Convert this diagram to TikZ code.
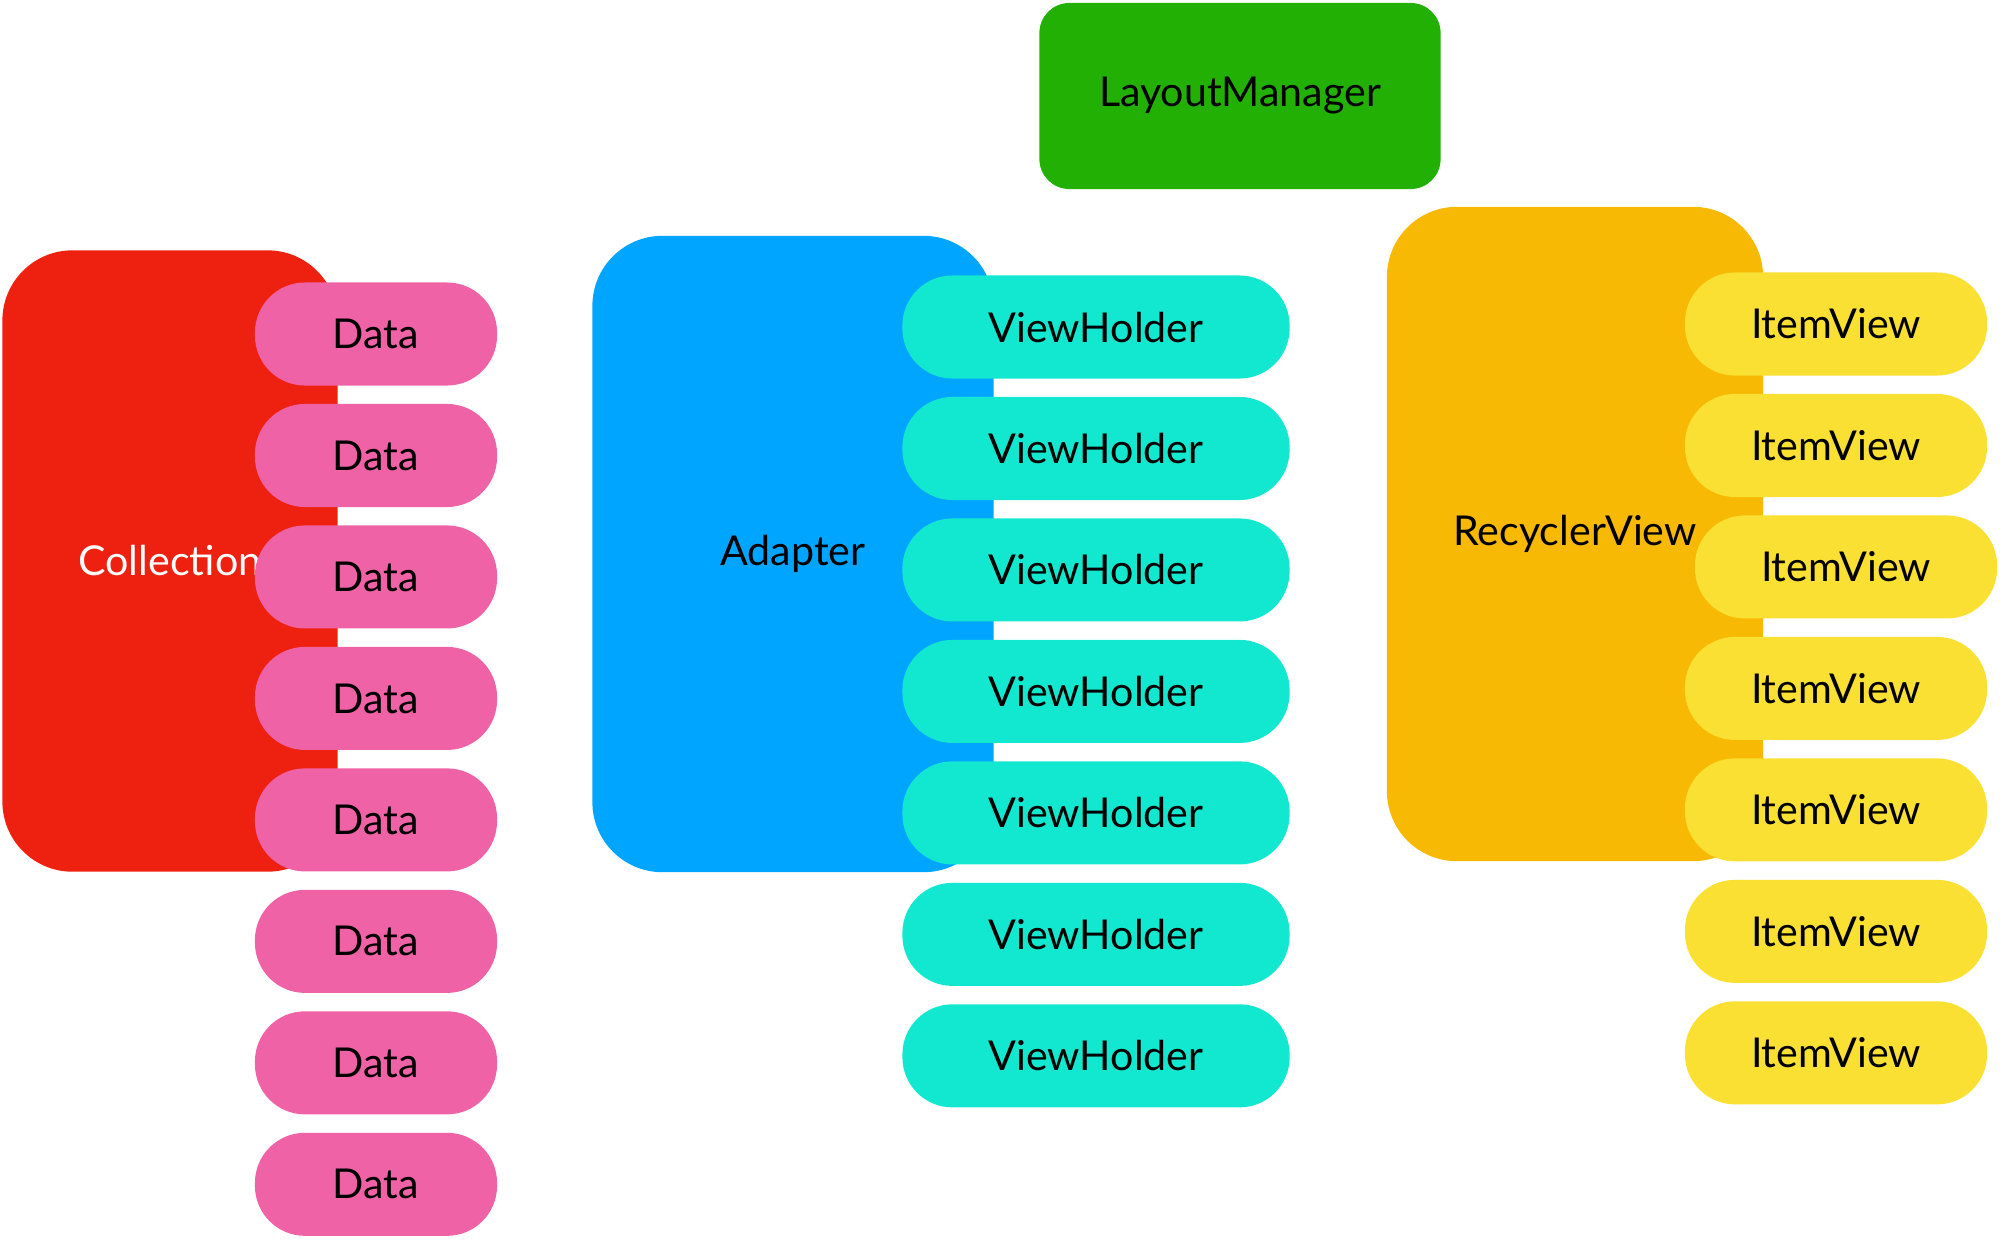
\documentclass[tikz,border=0pt]{standalone}
\usepackage{fontspec}
\setmainfont{Lato}
\usepackage{tikz}
\usetikzlibrary{positioning}
\definecolor{collectionred}{RGB}{238,32,16}
\definecolor{datapink}{RGB}{240,98,166}
\definecolor{adapterblue}{RGB}{0,165,255}
\definecolor{holdercyan}{RGB}{18,232,208}
\definecolor{layoutgreen}{RGB}{34,176,4}
\definecolor{recyclerorange}{RGB}{247,185,3}
\definecolor{itemyellow}{RGB}{250,224,51}

\begin{document}
\begin{tikzpicture}[x=0.01cm, y=-0.01cm, node distance=0.184cm, every node/.style={font=\fontsize{11.7}{14}\selectfont, inner sep=0pt, outer sep=0pt}, bigbox/.style={rounded corners=0.7cm, align=center}, pill/.style={rounded corners=0.5cm, minimum height=1.03cm}, datapill/.style={pill, fill=datapink, minimum width=2.42cm}, holderpill/.style={pill, fill=holdercyan, minimum width=3.87cm}, itempill/.style={pill, fill=itemyellow, minimum width=3.02cm}]
\useasboundingbox (0,0) rectangle (2000,1239);
% Collection column
\node[bigbox, fill=collectionred, text=white, minimum width=3.35cm, minimum height=6.21cm] (collection) at (170,561) {Collection};
\node[datapill] (data1) at (376,334) {Data};
\node[datapill, below=of data1] (data2) {Data};
\node[datapill, below=of data2] (data3) {Data};
\node[datapill, below=of data3] (data4) {Data};
\node[datapill, below=of data4] (data5) {Data};
\node[datapill, below=of data5] (data6) {Data};
\node[datapill, below=of data6] (data7) {Data};
\node[datapill, below=of data7] (data8) {Data};
% Adapter column
\node[bigbox, fill=adapterblue, minimum width=4.01cm, minimum height=6.36cm] (adapter) at (793,554) {Adapter};
\node[holderpill] (holder1) at (1096,327) {ViewHolder};
\node[holderpill, below=of holder1] (holder2) {ViewHolder};
\node[holderpill, below=of holder2] (holder3) {ViewHolder};
\node[holderpill, below=of holder3] (holder4) {ViewHolder};
\node[holderpill, below=of holder4] (holder5) {ViewHolder};
\node[holderpill, below=of holder5] (holder6) {ViewHolder};
\node[holderpill, below=of holder6] (holder7) {ViewHolder};
% LayoutManager
\node[rounded corners=0.3cm, fill=layoutgreen, minimum width=4.01cm, minimum height=1.86cm] (layout) at (1240,96) {LayoutManager};
% RecyclerView column
\node[bigbox, fill=recyclerorange, minimum width=3.76cm, minimum height=6.54cm] (recycler) at (1575,534) {RecyclerView};
\node[itempill] (item1) at (1836,324) {ItemView};
\node[itempill, below=of item1] (item2) {ItemView};
\node[itempill, below=of item2, xshift=0.1cm] (item3) {ItemView};
\node[itempill, below=of item3, xshift=-0.1cm] (item4) {ItemView};
\node[itempill, below=of item4] (item5) {ItemView};
\node[itempill, below=of item5] (item6) {ItemView};
\node[itempill, below=of item6] (item7) {ItemView};
\end{tikzpicture}
\end{document}
